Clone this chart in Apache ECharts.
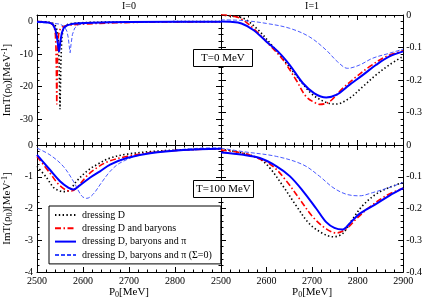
<!DOCTYPE html>
<html><head><meta charset="utf-8">
<script src="https://cdn.jsdelivr.net/npm/echarts@6/dist/echarts.min.js"></script>
<style>html,body{margin:0;padding:0;background:#fff}#c{width:425px;height:300px}</style>
</head><body><div id="c"></div>
<script>
// ---------- data ----------
const seriesNames = ['dressing D','dressing D and baryons','dressing D, baryons and \u03c0','dressing D, baryons and \u03c0 (\u03a3=0)'];
const panelTitles = ['I=0','I=1'];
const tempLabels = ['T=0 MeV','T=100 MeV'];
const xTickLabels = [2500,2600,2700,2800,2900];
const yTicksTopLeft = [0,-10,-20,-30];
const yTicksRight = [0,-0.1,-0.2,-0.3,-0.4];
const yTicksBottomLeft = [0,-1,-2,-3,-4];

// top-left: I=0, T=0
const xTL_D = [2500,2520,2530,2538,2542,2545,2547,2548,2549,2550,2551,2552,2554,2557,2562,2570,2590,2620,2660,2700,2800,2900];
const yTL_D = [0,-0.1,-0.3,-0.8,-1.8,-4,-8,-12,-20,-27,-20,-12,-5,-2.2,-1.2,-0.7,-0.4,-0.25,-0.15,-0.1,-0.05,-0.03];
const xTL_B = [2500,2520,2530,2535,2538,2540,2541,2542,2543,2544,2545,2547,2550,2555,2565,2580,2600,2630,2670,2720,2800,2900];
const yTL_B = [0,-0.2,-0.5,-1,-2,-4,-7,-14,-25.5,-16,-8,-4,-2.5,-1.7,-1.2,-1.0,-0.8,-0.6,-0.4,-0.25,-0.12,-0.08];
const xTL_P = [2500,2520,2530,2535,2540,2543,2545,2547,2548,2549,2551,2554,2558,2565,2575,2590,2620,2660,2700,2800,2900];
const yTL_P = [-0.1,-0.2,-0.5,-1,-2.5,-4.5,-6.5,-8.5,-9.3,-8.8,-6,-3.5,-2,-1.2,-0.8,-0.55,-0.35,-0.2,-0.15,-0.08,-0.05];
const xTL_S = [2500,2530,2550,2560,2565,2568,2570,2572,2574,2577,2582,2590,2610,2650,2700,2800,2900];
const yTL_S = [-0.3,-0.5,-0.8,-1.6,-3,-5,-7.5,-9.6,-7,-4,-2,-1,-0.5,-0.25,-0.15,-0.08,-0.05];

// top-right: I=1, T=0
const xTR_D = [2500,2520,2549,2578,2611,2644,2673,2702,2738,2753,2782,2811,2840,2869,2900];
const yTR_D = [0,-0.003,-0.01,-0.041,-0.092,-0.149,-0.2,-0.246,-0.272,-0.274,-0.256,-0.221,-0.185,-0.154,-0.127];
const xTR_B = [2500,2520,2542,2571,2603,2636,2665,2687,2709,2716,2738,2767,2797,2826,2862,2900];
const yTR_B = [0.002,-0.002,-0.01,-0.041,-0.087,-0.138,-0.2,-0.251,-0.272,-0.275,-0.267,-0.226,-0.19,-0.159,-0.128,-0.11];
const xTR_P = [2500,2520,2545,2571,2600,2629,2651,2680,2705,2731,2753,2782,2811,2840,2869,2900];
const yTR_P = [-0.02,-0.021,-0.026,-0.046,-0.082,-0.118,-0.154,-0.21,-0.241,-0.254,-0.246,-0.215,-0.185,-0.154,-0.128,-0.112];
const xTR_S = [2500,2549,2600,2651,2694,2731,2756,2778,2804,2833,2869,2900];
const yTR_S = [-0.015,-0.017,-0.026,-0.041,-0.067,-0.108,-0.144,-0.164,-0.154,-0.133,-0.118,-0.105];

// bottom-left: I=0, T=100
const xBL_D = [2500,2521,2536,2550,2561,2572,2586,2608,2630,2659,2695,2746,2818,2900];
const yBL_D = [-0.67,-1.03,-1.34,-1.45,-1.47,-1.4,-1.14,-0.83,-0.62,-0.41,-0.29,-0.21,-0.15,-0.12];
const xBL_B = [2500,2528,2547,2565,2575,2590,2608,2630,2655,2695,2746,2818,2900];
const yBL_B = [-0.36,-0.88,-1.24,-1.43,-1.45,-1.29,-0.98,-0.72,-0.52,-0.36,-0.24,-0.16,-0.12];
const xBL_P = [2500,2528,2550,2568,2579,2593,2615,2637,2659,2695,2746,2818,2900];
const yBL_P = [-0.31,-0.78,-1.14,-1.34,-1.4,-1.27,-1.03,-0.83,-0.62,-0.41,-0.26,-0.16,-0.12];
const xBL_S = [2500,2528,2557,2579,2597,2608,2622,2640,2659,2680,2724,2782,2855,2900];
const yBL_S = [-0.1,-0.31,-0.67,-1.14,-1.6,-1.68,-1.55,-1.19,-0.83,-0.57,-0.31,-0.19,-0.1,-0.09];

// bottom-right: I=1, T=100
const xBR_D = [2500,2549,2585,2607,2636,2665,2694,2724,2746,2767,2789,2811,2840,2869,2900];
const yBR_D = [-0.013,-0.026,-0.044,-0.072,-0.129,-0.191,-0.248,-0.279,-0.289,-0.279,-0.233,-0.191,-0.155,-0.134,-0.118];
const xBR_B = [2500,2549,2585,2614,2644,2673,2702,2731,2753,2775,2797,2826,2862,2900];
const yBR_B = [-0.016,-0.026,-0.044,-0.067,-0.114,-0.171,-0.227,-0.264,-0.277,-0.264,-0.233,-0.196,-0.16,-0.136];
const xBR_P = [2500,2549,2585,2622,2651,2680,2709,2731,2749,2767,2782,2804,2840,2869,2900];
const yBR_P = [-0.024,-0.031,-0.041,-0.067,-0.098,-0.145,-0.2,-0.243,-0.261,-0.266,-0.248,-0.217,-0.186,-0.16,-0.136];
const xBR_S = [2500,2549,2622,2680,2716,2746,2775,2804,2833,2869,2900];
const yBR_S = [-0.01,-0.021,-0.036,-0.062,-0.098,-0.134,-0.155,-0.16,-0.15,-0.134,-0.118];

// ---------- styling ----------
const FONT = "'Liberation Serif','Times New Roman',serif";
const BLACK = '#000';
const styles = [
  {color:'#000', width:1.6, type:[1.4,2.4]},
  {color:'#ff0000', width:1.6, type:[6,2.5,1.5,2.5]},
  {color:'#0000ff', width:2, type:'solid'},
  {color:'#3346ff', width:0.9, type:[4,2]}
];
const panels = [
  {xs:[xTL_D,xTL_B,xTL_P,xTL_S], ys:[yTL_D,yTL_B,yTL_P,yTL_S], smooth:false},
  {xs:[xTR_D,xTR_B,xTR_P,xTR_S], ys:[yTR_D,yTR_B,yTR_P,yTR_S], smooth:0.35},
  {xs:[xBL_D,xBL_B,xBL_P,xBL_S], ys:[yBL_D,yBL_B,yBL_P,yBL_S], smooth:0.35},
  {xs:[xBR_D,xBR_B,xBR_P,xBR_S], ys:[yBR_D,yBR_B,yBR_P,yBR_S], smooth:0.35}
];
const grids = [
  {left:37, top:15, width:184, height:130},
  {left:221, top:15, width:183, height:130},
  {left:37, top:145, width:184, height:129},
  {left:221, top:145, width:183, height:129}
];
const richName = {
  sub:{fontFamily:FONT, fontSize:8, color:BLACK, padding:[5,0,0,0]},
  sup:{fontFamily:FONT, fontSize:8, color:BLACK, padding:[0,0,5,0]}
};
const tick = {show:true, inside:true, length:5, lineStyle:{color:BLACK, width:1}};
const minor = {show:true, splitNumber:5, length:2.5, lineStyle:{color:BLACK, width:1}};
const line = {show:true, onZero:false, lineStyle:{color:BLACK, width:1}};
const lab = {fontFamily:FONT, fontSize:10, color:BLACK};

const xAxis = [];
grids.forEach((g, i) => {
  const bottomLabels = i >= 2;
  xAxis.push({
    type:'value', gridIndex:i, position:'bottom', min:xTickLabels[0], max:xTickLabels[xTickLabels.length-1], interval:100,
    axisLine:line, axisTick:tick, minorTick:minor, splitLine:{show:false},
    axisLabel:Object.assign({show:bottomLabels, margin:4,
      formatter:(v)=> (i===2 && v>=2900) ? '' : String(v)}, lab),
    name: bottomLabels ? 'P{sub|0}[MeV]' : '', nameLocation:'middle', nameGap:14,
    nameTextStyle:{fontFamily:FONT, fontSize:11, color:BLACK, rich:richName}
  });
  xAxis.push({
    type:'value', gridIndex:i, position:'top', min:2500, max:2900, interval:100,
    axisLine:line, axisTick:tick, minorTick:minor, splitLine:{show:false},
    axisLabel:{show:false},
    name: i < 2 ? panelTitles[i] : '', nameLocation:'middle', nameGap:4,
    nameTextStyle:{fontFamily:FONT, fontSize:10, color:BLACK}
  });
});

const yName = 'ImT(\u03c1{sub|0})[MeV{sup|-1}]';
const yNameStyle = {fontFamily:FONT, fontSize:11, color:BLACK, rich:richName};
const yAxis = [
  // grid 0 (custom major ticks)
  {type:'value', gridIndex:0, position:'left', min:-38, max:2,
   axisLine:line, axisTick:Object.assign({customValues:yTicksTopLeft}, tick),
   axisLabel:Object.assign({customValues:yTicksTopLeft, margin:4}, lab), splitLine:{show:false},
   name:yName, nameLocation:'middle', nameGap:23, nameTextStyle:yNameStyle},
  {type:'value', gridIndex:0, position:'left', min:-38, max:2, interval:2,
   axisLine:{show:false}, axisTick:{show:true, inside:true, length:2.5, lineStyle:{color:BLACK}},
   axisLabel:{show:false}, splitLine:{show:false}},
  {type:'value', gridIndex:0, position:'right', min:-38, max:2,
   axisLine:line, axisTick:Object.assign({customValues:yTicksTopLeft}, tick),
   axisLabel:{show:false, customValues:yTicksTopLeft}, splitLine:{show:false}},
  {type:'value', gridIndex:0, position:'right', min:-38, max:2, interval:2,
   axisLine:{show:false}, axisTick:{show:true, inside:true, length:2.5, lineStyle:{color:BLACK}},
   axisLabel:{show:false}, splitLine:{show:false}},
  // grid 1
  {type:'value', gridIndex:1, position:'left', min:-0.4, max:0, interval:0.1,
   axisLine:line, axisTick:tick, minorTick:minor, axisLabel:{show:false}, splitLine:{show:false}},
  {type:'value', gridIndex:1, position:'right', min:-0.4, max:0, interval:0.1,
   axisLine:line, axisTick:tick, minorTick:minor, splitLine:{show:false},
   axisLabel:Object.assign({margin:3, formatter:(v)=> v<=-0.399 ? '' : String(+v.toFixed(1))}, lab)},
  // grid 2
  {type:'value', gridIndex:2, position:'left', min:-4, max:0, interval:1,
   axisLine:line, axisTick:tick, minorTick:minor, splitLine:{show:false},
   axisLabel:Object.assign({margin:4}, lab),
   name:yName, nameLocation:'middle', nameGap:23, nameTextStyle:yNameStyle},
  {type:'value', gridIndex:2, position:'right', min:-4, max:0, interval:1,
   axisLine:line, axisTick:tick, minorTick:minor, axisLabel:{show:false}, splitLine:{show:false}},
  // grid 3
  {type:'value', gridIndex:3, position:'left', min:-0.4, max:0, interval:0.1,
   axisLine:line, axisTick:tick, minorTick:minor, axisLabel:{show:false}, splitLine:{show:false}},
  {type:'value', gridIndex:3, position:'right', min:-0.4, max:0, interval:0.1,
   axisLine:line, axisTick:tick, minorTick:minor, splitLine:{show:false},
   axisLabel:Object.assign({margin:3, formatter:(v)=> String(+v.toFixed(1))}, lab)}
];
const primaryY = [0, 4, 6, 8];

const series = [];
panels.forEach((p, gi) => {
  p.xs.forEach((xs, si) => {
    const ys = p.ys[si];
    series.push({
      name: seriesNames[si], type:'line', xAxisIndex: gi*2, yAxisIndex: primaryY[gi],
      data: xs.map((x, k) => [x, ys[k]]),
      symbol:'none', smooth:p.smooth, clip:true, z: si===2 ? 4 : 3,
      lineStyle: Object.assign({}, styles[si]),
      itemStyle:{color: styles[si].color},
      emphasis:{disabled:true}, animation:false
    });
  });
});

const option = {
  animation:false,
  backgroundColor:'#fff',
  grid: grids,
  xAxis, yAxis, series,
  title:[
    {text:tempLabels[0], left:193, top:49, padding:[4,8,3,8], borderColor:BLACK, borderWidth:1, backgroundColor:'#fff',
     textStyle:{fontFamily:FONT, fontSize:11, fontWeight:'normal', color:BLACK}},
    {text:tempLabels[1], left:193, top:180, padding:[4,3,3,3], borderColor:BLACK, borderWidth:1, backgroundColor:'#fff',
     textStyle:{fontFamily:FONT, fontSize:11, fontWeight:'normal', color:BLACK}}
  ],
  legend:{
    data: seriesNames, orient:'vertical', left:49, top:206, padding:[4,9,4,5],
    itemWidth:21, itemHeight:10, itemGap:3.3, borderColor:BLACK, borderWidth:1, backgroundColor:'#fff',
    itemStyle:{opacity:0, color:'rgba(0,0,0,0)', borderColor:'rgba(0,0,0,0)', borderWidth:0},
    textStyle:{fontFamily:FONT, fontSize:10, color:BLACK, padding:[0,0,0,1]},
    selectedMode:false
  }
};
const chart = echarts.init(document.getElementById('c'), null, {renderer:'canvas'});
chart.setOption(option);
</script></body></html>
